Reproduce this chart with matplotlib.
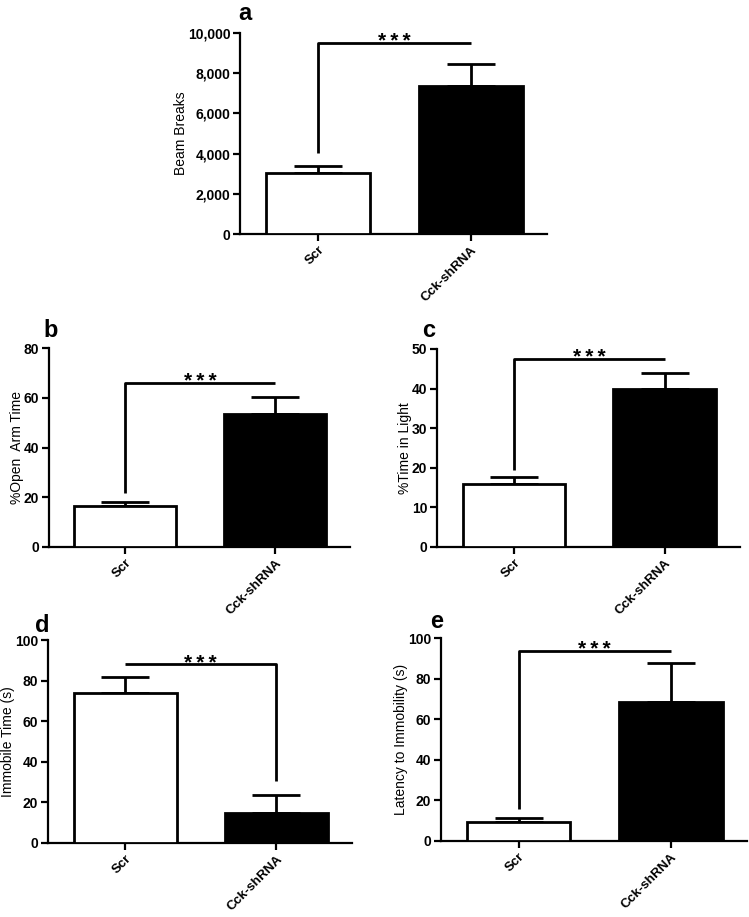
import matplotlib.pyplot as plt
from matplotlib.ticker import StrMethodFormatter

plt.rcParams['font.family'] = ['Liberation Sans', 'DejaVu Sans']

W, H = 749, 917

groups = ["Scr", "Cck-shRNA"]
bar_colors = ["white", "black"]

beam_mean = [3050, 7380]
beam_sem = [330, 1100]
open_arm_mean = [16.3, 53.4]
open_arm_sem = [1.9, 7.1]
light_mean = [15.9, 40.0]
light_sem = [1.7, 3.9]
immobile_mean = [73.8, 14.8]
immobile_sem = [8.2, 8.6]
latency_mean = [9.4, 68.7]
latency_sem = [2.0, 19.0]

# significance bracket: height, bottom of the drop line, which group it drops to
bracket_y = [9490, 65.8, 47.5, 88.0, 93.8]
bracket_drop = [4030, 21.8, 19.5, 30.3, 15.7]
bracket_side = [0, 0, 0, 1, 0]


def px_rect(left, top, right, bottom):
    return [left / W, 1 - bottom / H, (right - left) / W, (bottom - top) / H]


def panel(fig, rect, letter, letter_xy, ylabel, means, sems, ymax, ystep,
          by, drop, side, comma=False):
    ax = fig.add_axes(px_rect(*rect))
    x = [0, 1]
    ax.bar(x, means, width=0.68, color=bar_colors, edgecolor="black",
           linewidth=2.0, zorder=3)
    ax.errorbar(x, means, yerr=[[0, 0], sems], fmt="none", ecolor="black",
                elinewidth=2.0, capsize=17, capthick=2.0, zorder=2)

    # bracket
    other = 1 - side
    ax.plot([x[side], x[side], x[other]], [drop, by, by], color="black",
            lw=2.0, solid_capstyle="butt", clip_on=False, zorder=4)
    ax.annotate("*\u2009*\u2009*", xy=(0.5, by), xytext=(0, -3),
                textcoords="offset points", ha="center", va="baseline",
                fontsize=15, fontweight="bold")

    ax.set_xlim(-0.51, 1.5)
    ax.set_ylim(0, ymax)
    ax.set_yticks(range(0, ymax + 1, ystep))
    if comma:
        ax.yaxis.set_major_formatter(StrMethodFormatter("{x:,.0f}"))
    ax.set_xticks(x)
    ax.set_xticklabels(groups, rotation=45, ha="right", rotation_mode="anchor",
                       fontsize=9.5, fontweight="bold")
    for lab in ax.get_yticklabels():
        lab.set_fontweight("bold")
        lab.set_fontsize(10)
    ax.set_ylabel(ylabel, fontsize=10, labelpad=0)

    for s in ["top", "right"]:
        ax.spines[s].set_visible(False)
    for s in ["left", "bottom"]:
        ax.spines[s].set_linewidth(1.6)
    ax.tick_params(axis="both", direction="out", width=1.6, length=5, pad=2)

    fig.text(letter_xy[0] / W, 1 - letter_xy[1] / H, letter, fontsize=17,
             fontweight="bold", ha="left", va="baseline")
    return ax


def main():
    fig = plt.figure(figsize=(W / 100, H / 100), dpi=100)

    panel(fig, (240, 33, 547, 234), "a", (238, 20), "Beam Breaks",
          beam_mean, beam_sem, 10000, 2000,
          bracket_y[0], bracket_drop[0], bracket_side[0], comma=True)
    panel(fig, (49, 348, 350, 547), "b", (43, 337), "%Open  Arm Time",
          open_arm_mean, open_arm_sem, 80, 20,
          bracket_y[1], bracket_drop[1], bracket_side[1])
    panel(fig, (437, 349, 740, 547), "c", (422, 337), "%Time in Light",
          light_mean, light_sem, 50, 10,
          bracket_y[2], bracket_drop[2], bracket_side[2])
    panel(fig, (48, 640, 352, 843), "d", (35, 632), "Immobile Time (s)",
          immobile_mean, immobile_sem, 100, 20,
          bracket_y[3], bracket_drop[3], bracket_side[3])
    panel(fig, (441, 638, 747, 841), "e", (430, 628), "Latency to Immobility (s)",
          latency_mean, latency_sem, 100, 20,
          bracket_y[4], bracket_drop[4], bracket_side[4])

    fig.savefig("out.png", dpi=100)


if __name__ == "__main__":
    main()
